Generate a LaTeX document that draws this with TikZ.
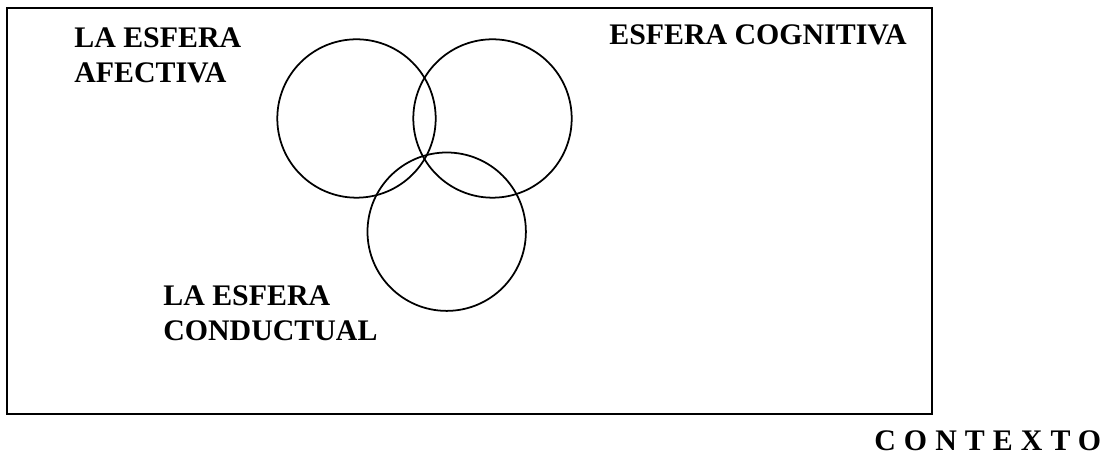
\documentclass[tikz,border=0pt]{standalone}
\usepackage{fontspec}
\setmainfont{Liberation Serif}
\usepackage{tikz}

\tikzset{
  esfera/.style={draw=black,line width=1pt},
  etiqueta/.style={font=\fontsize{17}{20.4}\selectfont\bfseries,inner sep=0pt,align=left}
}

\begin{document}
\begin{tikzpicture}

\useasboundingbox (0,0) rectangle (22.08,9.1);

\draw[line width=1.3pt] (0.14,0.82) rectangle (18.64,8.94);
\draw[esfera] (7.13,6.73) circle (1.584);
\draw[esfera] (9.85,6.73) circle (1.584);
\draw[esfera] (8.934,4.466) circle (1.584);
\node[etiqueta,anchor=base west] (afectiva) at (1.48,7.44) {LA ESFERA\\AFECTIVA};
\node[etiqueta,anchor=base west] (cognitiva) at (12.18,8.2) {ESFERA COGNITIVA};
\node[etiqueta,anchor=base west] (conductual) at (3.26,2.28) {LA ESFERA\\CONDUCTUAL};
\node[etiqueta,anchor=base west] (contexto) at (17.48,0.08) {\addfontfeature{LetterSpace=27}CONTEXTO};
\end{tikzpicture}
\end{document}
